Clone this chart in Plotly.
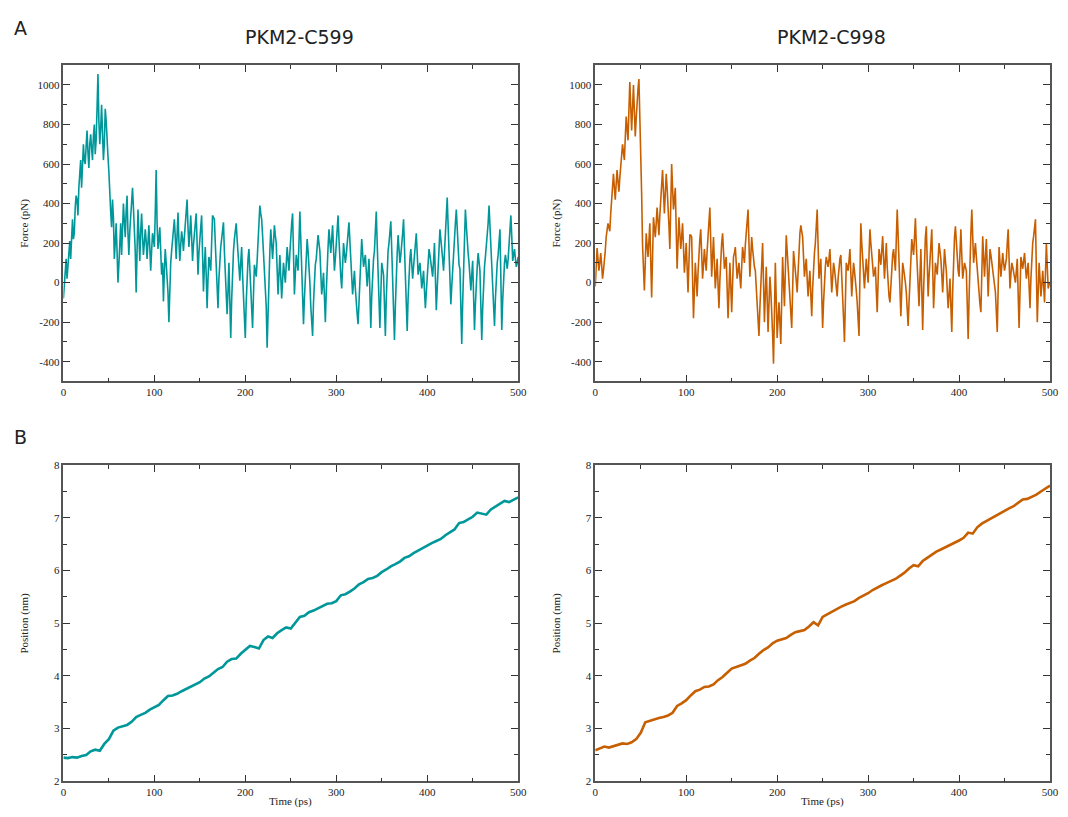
import plotly.graph_objects as go

# ---------------- data ----------------
# Force (pN): values at even picoseconds (0, 2, ..., 500) and odd picoseconds (1, 3, ..., 499)
force_c599_even = [
    -80, 70, 20, 170, 120, 320, 250, 440, 340, 560, 480, 700, 600, 770, 580, 750, 620, 800, 720, 1055,
    700, 900, 620, 880, 700, 560, 360, 420, 120, 300, 0, 200, 140, 400, 230, 440, 140, 350, 480, 300,
    -50, 370, 110, 350, 140, 270, 120, 290, 60, 250, 180, 570, 170, 280, 40, -95, 170, 20, -200, 100,
    210, 320, 120, 355, 110, 260, 160, 300, 420, 180, 340, 110, 260, 350, 40, 240, 340, -45, 180, -130,
    130, 60, 340, 320, 70, -130, 150, 220, 305, 20, -160, 100, -280, 100, 220, 300, 140, 10, 180, -100,
    -280, 80, 170, -50, -230, 90, 30, 200, 390, 320, 150, 40, -330, 60, 270, 120, 290, 200, -60, 140,
    -80, 100, 0, 180, 60, 250, 350, -60, 140, 60, 360, 80, -210, 40, 220, 100, -120, -270, 60, 120,
    240, 160, -60, 50, -200, 100, 270, 150, 290, 60, 180, 340, 90, -30, 200, 100, 190, 305, 120, -60,
    60, -120, -210, 30, 220, 80, 140, -20, 120, -230, 80, 160, 360, 50, -230, 100, 40, -270, 120, 200,
    310, 30, -290, 50, 240, 100, 180, 320, 60, -245, 80, 170, 20, 140, 250, 40, 100, -30, 60, -130,
    40, 170, 100, 30, 200, -140, 80, 270, 180, 60, 240, 430, 150, -110, 80, 240, 370, 120, 70, -310,
    100, 370, 200, 100, -40, 110, -240, 20, 150, 60, -290, 40, 130, 220, 390, 180, 40, -220, 60, 140,
    270, -240, 60, 140, 70, 180, 340, 110, 170, 80, 130,
]
force_c599_odd = [
    0, 120, 90, 210, 260, 220, 380, 420, 480, 620, 650, 620, 690, 660, 700, 680, 740, 650, 880, 820,
    780, 760, 700, 820, 640,
    420, 280, 330, 200, 160, 90, 300, 280, 310, 360, 250, 260, 400, 380, 160, 200, 240, 260, 230, 200,
    210, 200, 180, 160, 220,
    350, 300, 220, 160, 100, 60, 100, -50, 0, 160, 260, 230, 240, 210, 190, 220, 230, 330, 280, 250,
    230, 190, 300, 200, 150,
    280, 150, 80, 40, 20, 100, 200, 330, 200, -20, 20, 180, 260, 160, -60, -40, -100, -90, 160, 260,
    220, 80, 100, 40, -180,
    -100, 120, 60, -130, -60, 60, 110, 300, 350, 240, 100, -120, -120, 160, 200, 200, 240, 70, 40, 30,
    10, 50, 90, 120, 150,
    300, 150, 40, 100, 200, 220, -60, -80, 130, 160, 0, -190, -100, 90, 180, 200, 50, -10, -70, -50,
    180, 210, 220, 170, 120,
    260, 220, 30, 80, 150, 140, 250, 210, 30, 0, -30, -160, -90, 120, 150, 110, 60, 50, -50, -70,
    120, 260, 200, -90, -60,
    70, -110, -80, 160, 250, 170, -130, -120, 150, 170, 140, 250, 190, -90, -80, 120, 90, 80, 190, 150,
    70, 40, 10, -40, -50,
    100, 140, 60, 110, 30, -30, 180, 220, 120, 150, 340, 290, 20, -20, 160, 300, 250, 90, -120, -100,
    230, 290, 150, 30, 40,
    -70, -110, 80, 110, -120, -130, 80, 180, 300, 290, 110, -90, -80, 100, 200, 20, -90, 100, 110, 120,
    260, 230, 140, 120, 100,
]
force_c998_even = [
    -20, 175, 60, 150, 20, 100, 230, 300, 260, 430, 550, 420, 570, 460, 590, 700, 620, 840, 720, 1015,
    770, 1000, 740, 930, 1030, 720, 190, -40, 250, 130, 300, -75, 330, 230, 380, 240, 430, 570, 350, 550,
    400, 170, 600, 370, 480, 70, 330, 170, 300, 50, 200, -50, 240, 230, -180, 100, -70, 170, 270, 20,
    170, 60, 260, 380, 30, 230, -30, 120, -130, 150, 250, 70, 130, -180, 100, -150, 130, 180, 20, 100,
    -30, 180, 100, 270, 370, 30, 230, 100, 60, -80, -270, 0, 200, -200, 80, -250, 30, -120, -410, 100,
    -280, -100, -310, 130, -120, 240, 80, -70, -230, 160, 70, -50, 200, 290, 230, 30, 120, -70, 60, -170,
    100, 200, 370, 20, 120, -230, 30, 130, 80, 170, -50, 100, 30, -70, 100, 140, -50, -300, 100, 60,
    170, -70, 100, 20, -100, -270, 300, 100, -30, 120, 0, 270, 140, 30, 80, -150, 170, 90, 235, 20,
    200, -30, -100, 100, 170, 60, 370, 100, -170, 100, 40, -50, -220, 20, 220, 140, 325, 50, -120, 170,
    -240, 170, 285, -70, 120, 270, -130, 100, 40, 200, 120, -50, 170, 60, -130, 20, -250, 170, 285, 100,
    30, 270, 20, 100, 60, -285, 130, 370, 100, 200, 60, -70, -150, 235, 30, 220, -70, 170, 100, 30,
    -50, -250, 180, 30, 150, 60, 120, 270, -30, 100, 50, 0, 120, -230, 130, 70, 150, 20, 100, -130,
    170, 235, 320, -200, 100, -70, 60, -100, 200, -30, 0,
]
force_c998_odd = [
    80, 120, 100, 90, 60, 160, 270, 280, 350, 490, 480, 500, 510, 530, 640, 660, 730, 780, 870, 890,
    880, 870, 830, 980, 870,
    450, 80, 100, 190, 210, 110, 130, 280, 300, 310, 340, 500, 460, 450, 480, 290, 380, 480, 420, 270,
    200, 250, 230, 180, 120,
    80, 100, 240, 20, -40, 20, 50, 220, 140, 90, 110, 160, 320, 200, 130, 100, 40, -10, 10, 200,
    160, 100, -30, -40, -20,
    0, 150, 100, 60, 30, 80, 140, 190, 320, 200, 130, 170, 80, -10, -180, -130, 100, 0, -60, -80,
    -110, -40, -260, -150, -90,
    -190, -200, -90, 0, 60, 160, 0, -150, -40, 110, 10, 80, 250, 260, 130, 80, 20, 0, -60, -30,
    150, 290, 190, 70, -60,
    -100, 80, 110, 120, 60, 20, 70, -20, 20, 120, 50, -180, -100, 80, 110, 50, 20, 60, -40, -190,
    30, 200, 30, 50, 60,
    140, 200, 80, 50, -40, 10, 130, 160, 130, 110, 80, -70, 0, 140, 110, 220, 240, -40, -40, 70,
    0, -140, -100, 120, 180,
    230, 190, -40, 30, -40, -40, 230, 110, 30, 200, 70, -20, 70, 120, 160, 40, 60, 110, -40, -60,
    -120, -40, 230, 190, 60,
    150, 140, 60, 80, -110, -80, 250, 240, 150, 130, 0, -110, 40, 130, 130, 80, 50, 140, 60, -10,
    -150, -30, 100, 90, 100,
    90, 200, 120, 40, 80, 20, 60, -60, -50, 100, 110, 80, 60, -20, 20, 200, 280, 60, -50, 20,
    -10, -20, 50, 80, -10,
]

# Position (nm) every 5 ps from 0 to 500
pos_step_ps = 5
pos_c599 = [
    2.45, 2.44, 2.46, 2.45, 2.48, 2.50, 2.57, 2.60, 2.58, 2.71, 2.80, 2.96, 3.02, 3.04, 3.07, 3.13, 3.22,
    3.26, 3.30, 3.36, 3.41, 3.45, 3.54, 3.62, 3.63, 3.66, 3.71, 3.75, 3.79, 3.84, 3.88, 3.95, 3.99, 4.06,
    4.13, 4.17, 4.27, 4.32, 4.33, 4.42, 4.50, 4.57, 4.55, 4.52, 4.68, 4.75, 4.72, 4.81, 4.87, 4.92, 4.90,
    5.02, 5.12, 5.14, 5.21, 5.24, 5.28, 5.33, 5.37, 5.38, 5.42, 5.53, 5.55, 5.60, 5.66, 5.74, 5.78, 5.84,
    5.86, 5.90, 5.97, 6.02, 6.08, 6.12, 6.17, 6.24, 6.27, 6.33, 6.38, 6.43, 6.47, 6.52, 6.56, 6.60, 6.67,
    6.72, 6.78, 6.90, 6.92, 6.97, 7.02, 7.10, 7.08, 7.06, 7.16, 7.21, 7.26, 7.32, 7.30, 7.34, 7.39,
]
pos_c998 = [
    2.59, 2.62, 2.66, 2.64, 2.67, 2.69, 2.72, 2.71, 2.74, 2.80, 2.92, 3.12, 3.15, 3.18, 3.20, 3.22, 3.25,
    3.30, 3.43, 3.48, 3.54, 3.63, 3.71, 3.74, 3.79, 3.80, 3.84, 3.92, 3.98, 4.06, 4.14, 4.17, 4.20, 4.23,
    4.29, 4.34, 4.42, 4.49, 4.54, 4.62, 4.67, 4.69, 4.72, 4.78, 4.83, 4.85, 4.87, 4.94, 5.02, 4.96, 5.12,
    5.17, 5.22, 5.26, 5.31, 5.35, 5.38, 5.42, 5.48, 5.52, 5.57, 5.63, 5.68, 5.72, 5.76, 5.80, 5.84, 5.90,
    5.96, 6.04, 6.10, 6.08, 6.18, 6.24, 6.30, 6.36, 6.40, 6.44, 6.49, 6.53, 6.57, 6.62, 6.72, 6.70, 6.82,
    6.89, 6.94, 6.99, 7.03, 7.09, 7.14, 7.18, 7.22, 7.29, 7.35, 7.36, 7.40, 7.44, 7.50, 7.55, 7.61,
]

titles = ["PKM2-C599", "PKM2-C998"]
x_ticks = [0, 100, 200, 300, 400, 500]
force_ticks = [-400, -200, 0, 200, 400, 600, 800, 1000]
pos_ticks = [2, 3, 4, 5, 6, 7, 8]


def merge_even_odd(even_vals, odd_vals):
    pts = [(2 * i, v) for i, v in enumerate(even_vals)] + [(2 * i + 1, v) for i, v in enumerate(odd_vals)]
    pts.sort(key=lambda p: p[0])
    return [p[0] for p in pts], [p[1] for p in pts]


t_f599, f599 = merge_even_odd(force_c599_even, force_c599_odd)
t_f998, f998 = merge_even_odd(force_c998_even, force_c998_odd)
t_p599 = [i * pos_step_ps for i in range(len(pos_c599))]
t_p998 = [i * pos_step_ps for i in range(len(pos_c998))]

# ---------------- styling ----------------
PAGE_W, PAGE_H = 1068, 817
OFF = 8  # default page body margin
W, H = PAGE_W - 2 * OFF, PAGE_H - 2 * OFF
TEAL = "#00979A"
ORANGE = "#C75F00"
FRAME = "#555555"
SERIF = "Liberation Serif, Times New Roman, serif"
SANS = "DejaVu Sans, sans-serif"


def px_x(p):
    return (p - OFF) / W


def px_y(p):
    return 1 - (p - OFF) / H


fig = go.Figure()
fig.add_trace(go.Scatter(x=t_f599, y=f599, mode="lines",
                         line=dict(color=TEAL, width=1.6), xaxis="x", yaxis="y"))
fig.add_trace(go.Scatter(x=t_f998, y=f998, mode="lines",
                         line=dict(color=ORANGE, width=1.6), xaxis="x2", yaxis="y2"))
fig.add_trace(go.Scatter(x=t_p599, y=pos_c599, mode="lines",
                         line=dict(color=TEAL, width=2.6), xaxis="x3", yaxis="y3"))
fig.add_trace(go.Scatter(x=t_p998, y=pos_c998, mode="lines",
                         line=dict(color=ORANGE, width=2.6), xaxis="x4", yaxis="y4"))

xdom_left = [px_x(61), px_x(521)]
xdom_right = [px_x(599), px_x(1059)]
ydom_top = [px_y(381), px_y(60)]
ydom_bot = [px_y(787), px_y(466)]


def xaxis(dom, anchor):
    return dict(domain=dom, anchor=anchor, range=[0, 500], tickvals=x_ticks,
                ticktext=[str(v) for v in x_ticks],
                ticks="inside", ticklen=7, tickwidth=1.3, tickcolor="#333",
                minor=dict(dtick=50, tick0=0, ticks="inside", ticklen=4, tickwidth=1.2, tickcolor="#333"),
                showline=True, linecolor=FRAME, linewidth=1.6, mirror="ticks",
                showgrid=False, zeroline=False,
                tickfont=dict(family=SERIF, size=11, color="#222"))


def yaxis(dom, anchor, rng, ticks, minor_dtick, tick0):
    return dict(domain=dom, anchor=anchor, range=rng, tickvals=ticks,
                ticktext=[str(v) for v in ticks],
                ticks="inside", ticklen=7, tickwidth=1.3, tickcolor="#333",
                minor=dict(dtick=minor_dtick, tick0=tick0, ticks="inside", ticklen=4, tickwidth=1.2,
                           tickcolor="#333"),
                showline=True, linecolor=FRAME, linewidth=1.6, mirror="ticks",
                showgrid=False, zeroline=False,
                tickfont=dict(family=SERIF, size=11, color="#222"))


def label(text, x, y, size, family, angle=0):
    return dict(text=text, x=px_x(x), y=px_y(y), xref="paper", yref="paper", showarrow=False,
                xanchor="center", yanchor="middle", textangle=angle,
                font=dict(family=family, size=size, color="#222"))


annotations = [
    label(titles[0], 300, 31, 19, SANS),
    label(titles[1], 838, 31, 19, SANS),
    label("A", 18, 22, 19, SANS),
    label("B", 18, 437, 19, SANS),
    label("Force (pN)", 22, 220, 11, SERIF, -90),
    label("Force (pN)", 560, 220, 11, SERIF, -90),
    label("Position (nm)", 22, 626, 11, SERIF, -90),
    label("Position (nm)", 560, 626, 11, SERIF, -90),
    label("Time (ps)", 291, 807, 11, SERIF),
    label("Time (ps)", 829, 807, 11, SERIF),
]

fig.update_layout(
    width=W, height=H,
    margin=dict(l=0, r=0, t=0, b=0),
    paper_bgcolor="white", plot_bgcolor="white",
    showlegend=False,
    xaxis=xaxis(xdom_left, "y"),
    yaxis=yaxis(ydom_top, "x", [-500, 1100], force_ticks, 100, 0),
    xaxis2=xaxis(xdom_right, "y2"),
    yaxis2=yaxis(ydom_top, "x2", [-500, 1100], force_ticks, 100, 0),
    xaxis3=xaxis(xdom_left, "y3"),
    yaxis3=yaxis(ydom_bot, "x3", [2, 8], pos_ticks, 0.5, 2),
    xaxis4=xaxis(xdom_right, "y4"),
    yaxis4=yaxis(ydom_bot, "x4", [2, 8], pos_ticks, 0.5, 2),
    annotations=annotations,
)

fig.write_html("out.html")
